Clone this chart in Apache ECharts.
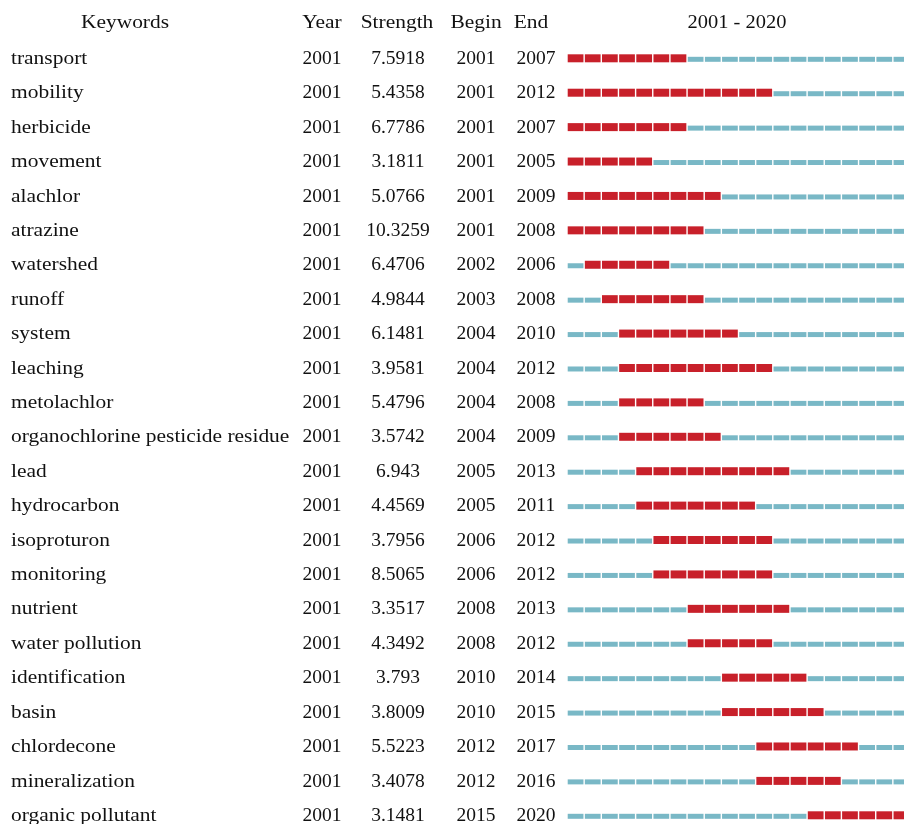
<!DOCTYPE html>
<html><head><meta charset="utf-8">
<script src="https://cdn.jsdelivr.net/npm/echarts@6/dist/echarts.min.js"></script>
<style>html,body{margin:0;padding:0;background:#fff}#c{width:904px;height:824px}</style>
</head><body><div id="c"></div>
<script>
var keywords = ["transport","mobility","herbicide","movement","alachlor","atrazine","watershed","runoff","system","leaching","metolachlor","organochlorine pesticide residue","lead","hydrocarbon","isoproturon","monitoring","nutrient","water pollution","identification","basin","chlordecone","mineralization","organic pollutant"];
var years = [2001,2001,2001,2001,2001,2001,2001,2001,2001,2001,2001,2001,2001,2001,2001,2001,2001,2001,2001,2001,2001,2001,2001];
var strengths = ["7.5918","5.4358","6.7786","3.1811","5.0766","10.3259","6.4706","4.9844","6.1481","3.9581","5.4796","3.5742","6.943","4.4569","3.7956","8.5065","3.3517","4.3492","3.793","3.8009","5.5223","3.4078","3.1481"];
var begins = [2001,2001,2001,2001,2001,2001,2002,2003,2004,2004,2004,2004,2005,2005,2006,2006,2008,2008,2010,2010,2012,2012,2015];
var ends = [2007,2012,2007,2005,2009,2008,2006,2008,2010,2012,2008,2009,2013,2011,2012,2012,2013,2012,2014,2015,2017,2016,2020];
var firstYear = 2001, lastYear = 2020;
var headers = ["Keywords","Year","Strength","Begin","End","2001 - 2020"];

var FONT = '"Liberation Serif","Times New Roman",serif';
var FS = 19.5;
var SX = 1.1;
var chart = echarts.init(document.getElementById('c'), null, {renderer:'canvas'});

var segData = [];
keywords.forEach(function(k,i){
  for (var y = firstYear; y <= lastYear; y++) {
    segData.push([y, i, (y >= begins[i] && y <= ends[i]) ? 1 : 0]);
  }
});
var rowData = keywords.map(function(k,i){ return [firstYear, i]; });

function hdr(txt, x, sx){
  return {type:'text', x:x, y:23, scaleX:sx, originX:0, originY:0,
    style:{text:txt, x:0, y:0, font:FS+'px '+FONT, fill:'#111', align:'center', verticalAlign:'middle'}};
}

var option = {
  animation:false,
  grid:{left:567, top:41.1, width:343, height:791.4, containLabel:false, outerBoundsMode:'none'},
  xAxis:{type:'value', min:2001, max:2021, show:false},
  yAxis:{type:'category', inverse:true, data:keywords, show:false},
  graphic:[],
  series:[
    {
      type:'custom', data:segData, clip:false,
      renderItem:function(params, api){
        var y0 = api.value(0), row = api.value(1), burst = api.value(2);
        var p0 = api.coord([y0, row]);
        var p1 = api.coord([y0+1, row]);
        var h = burst ? 8 : 5;
        var cy = burst ? p0[1] : p0[1]+1;
        return {type:'rect',
          shape:{x:p0[0]+0.7, y:cy-h/2, width:p1[0]-p0[0]-1.4, height:h},
          style:{fill: burst ? '#c8202a' : '#79b8c6'}};
      }
    },
    {
      type:'custom', data:rowData, clip:false,
      renderItem:function(params, api){
        var i = params.dataIndex;
        var cy = api.coord([firstYear, api.value(1)])[1] + 0.5;
        function t(txt, x, align, sx){
          return {type:'text', x:x, y:cy, scaleX:sx, originX:0, originY:0,
            style:{text:txt, x:0, y:0, font:FS+'px '+FONT, fill:'#111', verticalAlign:'middle', align:align}};
        }
        return {type:'group', children:[
          t(keywords[i], 11, 'left', SX),
          t(String(years[i]), 322, 'center', 1),
          t(strengths[i], 398, 'center', 1),
          t(String(begins[i]), 476, 'center', 1),
          t(String(ends[i]), 536, 'center', 1)
        ]};
      }
    }
  ]
};
option.graphic = [
  hdr(headers[0], 125, SX),
  hdr(headers[1], 322, SX),
  hdr(headers[2], 397, SX),
  hdr(headers[3], 476, SX),
  hdr(headers[4], 531, SX),
  hdr(headers[5], 737, 1.05)
];
chart.setOption(option);
</script></body></html>
